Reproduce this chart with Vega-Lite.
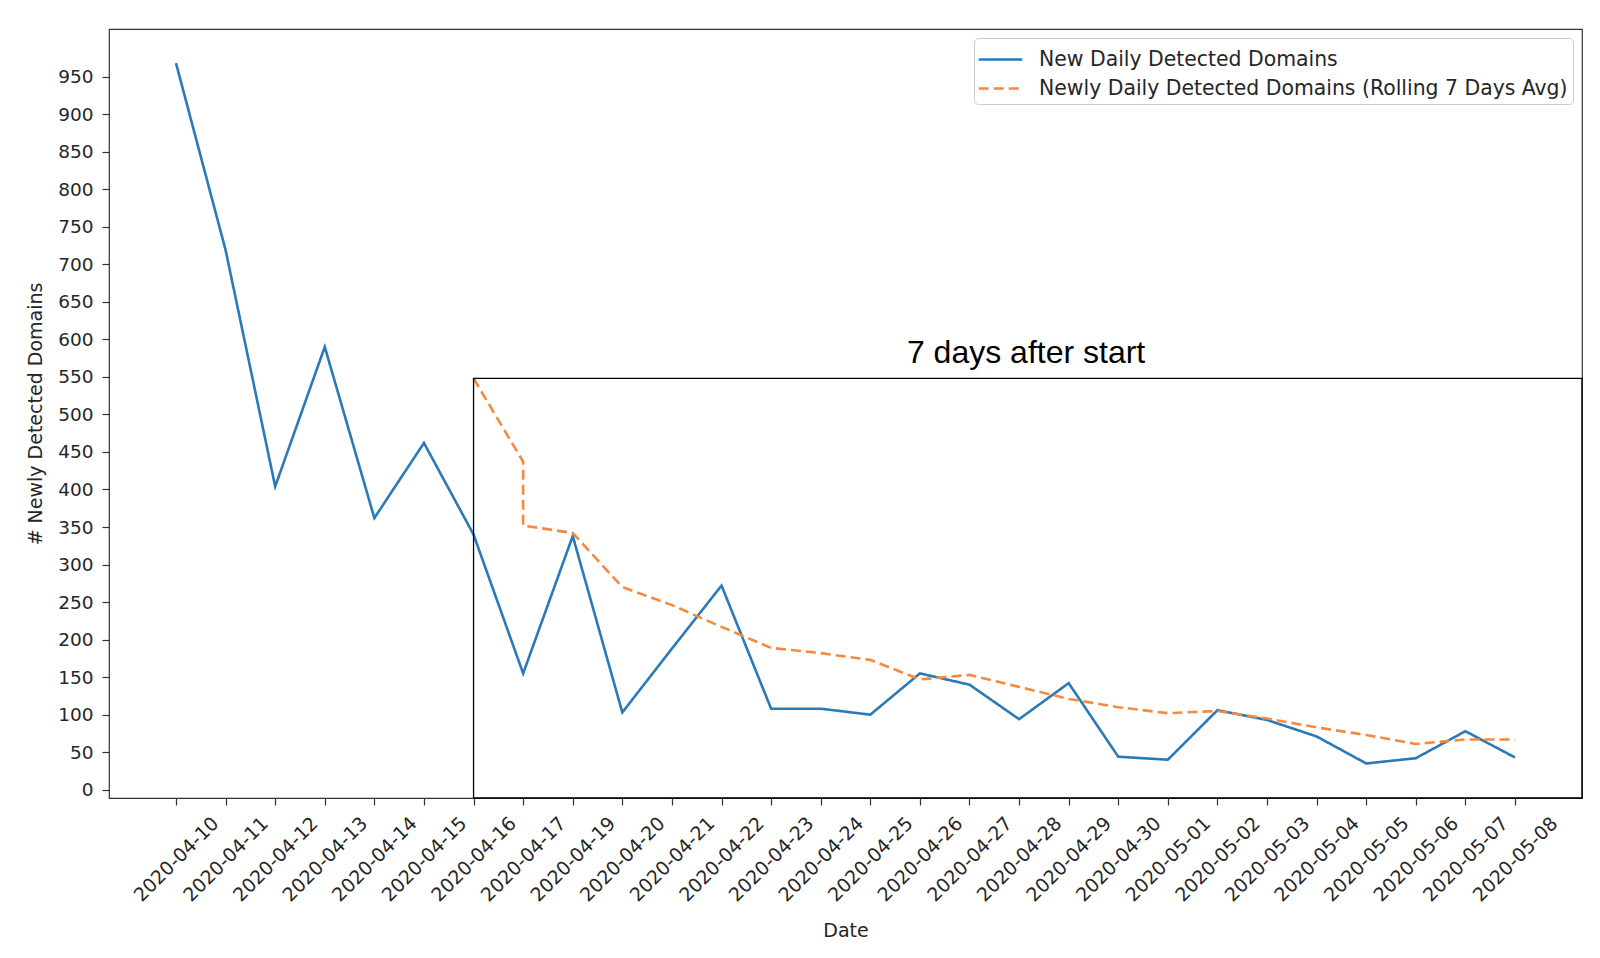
{
  "$schema": "https://vega.github.io/schema/vega-lite/v6.json",
  "description": "Newly detected domains per day with rolling 7 day average.",
  "width": 1473,
  "height": 769,
  "autosize": {"type": "none"},
  "padding": {"left": 109, "top": 29, "right": 18, "bottom": 160},
  "background": "white",
  "config": {
    "font": "DejaVu Sans",
    "view": {"stroke": "#333333", "strokeWidth": 1.2},
    "axis": {
      "domain": false,
      "grid": false,
      "ticks": true,
      "tickSize": 7,
      "tickColor": "#333333",
      "tickWidth": 1.2,
      "labelFont": "DejaVu Sans",
      "labelFontSize": 19,
      "labelColor": "#262626",
      "titleFont": "DejaVu Sans",
      "titleFontSize": 19,
      "titleFontWeight": "normal",
      "titleColor": "#262626"
    },
    "legend": {
      "labelFont": "DejaVu Sans",
      "labelFontSize": 20.4,
      "labelColor": "#262626",
      "labelLimit": 700
    }
  },
  "datasets": {
    "domains": [
      {"date": "2020-04-10", "series": "New Daily Detected Domains", "value": 968},
      {"date": "2020-04-11", "series": "New Daily Detected Domains", "value": 719},
      {"date": "2020-04-12", "series": "New Daily Detected Domains", "value": 404},
      {"date": "2020-04-13", "series": "New Daily Detected Domains", "value": 590},
      {"date": "2020-04-14", "series": "New Daily Detected Domains", "value": 362},
      {"date": "2020-04-15", "series": "New Daily Detected Domains", "value": 462},
      {"date": "2020-04-16", "series": "New Daily Detected Domains", "value": 340},
      {"date": "2020-04-17", "series": "New Daily Detected Domains", "value": 155},
      {"date": "2020-04-19", "series": "New Daily Detected Domains", "value": 338},
      {"date": "2020-04-20", "series": "New Daily Detected Domains", "value": 103},
      {"date": "2020-04-21", "series": "New Daily Detected Domains", "value": 188},
      {"date": "2020-04-22", "series": "New Daily Detected Domains", "value": 272},
      {"date": "2020-04-23", "series": "New Daily Detected Domains", "value": 108},
      {"date": "2020-04-24", "series": "New Daily Detected Domains", "value": 108},
      {"date": "2020-04-25", "series": "New Daily Detected Domains", "value": 100},
      {"date": "2020-04-26", "series": "New Daily Detected Domains", "value": 155},
      {"date": "2020-04-27", "series": "New Daily Detected Domains", "value": 140},
      {"date": "2020-04-28", "series": "New Daily Detected Domains", "value": 94},
      {"date": "2020-04-29", "series": "New Daily Detected Domains", "value": 142},
      {"date": "2020-04-30", "series": "New Daily Detected Domains", "value": 44},
      {"date": "2020-05-01", "series": "New Daily Detected Domains", "value": 40},
      {"date": "2020-05-02", "series": "New Daily Detected Domains", "value": 106},
      {"date": "2020-05-03", "series": "New Daily Detected Domains", "value": 93},
      {"date": "2020-05-04", "series": "New Daily Detected Domains", "value": 71},
      {"date": "2020-05-05", "series": "New Daily Detected Domains", "value": 35},
      {"date": "2020-05-06", "series": "New Daily Detected Domains", "value": 42},
      {"date": "2020-05-07", "series": "New Daily Detected Domains", "value": 78},
      {"date": "2020-05-08", "series": "New Daily Detected Domains", "value": 43},
      {"date": "2020-04-16", "series": "Newly Daily Detected Domains (Rolling 7 Days Avg)", "value": 548},
      {"date": "2020-04-17", "series": "Newly Daily Detected Domains (Rolling 7 Days Avg)", "value": 437},
      {"date": "2020-04-17", "series": "Newly Daily Detected Domains (Rolling 7 Days Avg)", "value": 352},
      {"date": "2020-04-19", "series": "Newly Daily Detected Domains (Rolling 7 Days Avg)", "value": 342},
      {"date": "2020-04-20", "series": "Newly Daily Detected Domains (Rolling 7 Days Avg)", "value": 270},
      {"date": "2020-04-21", "series": "Newly Daily Detected Domains (Rolling 7 Days Avg)", "value": 246},
      {"date": "2020-04-22", "series": "Newly Daily Detected Domains (Rolling 7 Days Avg)", "value": 217},
      {"date": "2020-04-23", "series": "Newly Daily Detected Domains (Rolling 7 Days Avg)", "value": 189},
      {"date": "2020-04-24", "series": "Newly Daily Detected Domains (Rolling 7 Days Avg)", "value": 182},
      {"date": "2020-04-25", "series": "Newly Daily Detected Domains (Rolling 7 Days Avg)", "value": 173},
      {"date": "2020-04-26", "series": "Newly Daily Detected Domains (Rolling 7 Days Avg)", "value": 147},
      {"date": "2020-04-27", "series": "Newly Daily Detected Domains (Rolling 7 Days Avg)", "value": 153},
      {"date": "2020-04-28", "series": "Newly Daily Detected Domains (Rolling 7 Days Avg)", "value": 137},
      {"date": "2020-04-29", "series": "Newly Daily Detected Domains (Rolling 7 Days Avg)", "value": 121},
      {"date": "2020-04-30", "series": "Newly Daily Detected Domains (Rolling 7 Days Avg)", "value": 110},
      {"date": "2020-05-01", "series": "Newly Daily Detected Domains (Rolling 7 Days Avg)", "value": 102},
      {"date": "2020-05-02", "series": "Newly Daily Detected Domains (Rolling 7 Days Avg)", "value": 105},
      {"date": "2020-05-03", "series": "Newly Daily Detected Domains (Rolling 7 Days Avg)", "value": 95},
      {"date": "2020-05-04", "series": "Newly Daily Detected Domains (Rolling 7 Days Avg)", "value": 83},
      {"date": "2020-05-05", "series": "Newly Daily Detected Domains (Rolling 7 Days Avg)", "value": 73},
      {"date": "2020-05-06", "series": "Newly Daily Detected Domains (Rolling 7 Days Avg)", "value": 61},
      {"date": "2020-05-07", "series": "Newly Daily Detected Domains (Rolling 7 Days Avg)", "value": 67},
      {"date": "2020-05-08", "series": "Newly Daily Detected Domains (Rolling 7 Days Avg)", "value": 67}
    ],
    "annotation": [
      {"note": "7 days after start", "from": "2020-04-16", "upper": 548}
    ]
  },
  "layer": [
    {
      "data": {"name": "domains"},
      "mark": {"type": "line", "strokeWidth": 2.6},
      "encoding": {
        "x": {
          "field": "date",
          "type": "ordinal",
          "scale": {"type": "point", "padding": 0, "range": [67, 1406]},
          "axis": {
            "title": "Date",
            "labelAngle": -45,
            "labelAlign": "center",
            "labelBaseline": "middle",
            "labelPadding": 54,
            "labelOverlap": false,
            "titlePadding": 16
          }
        },
        "y": {
          "field": "value",
          "type": "quantitative",
          "scale": {"domain": [-11, 1013.5], "nice": false, "zero": false},
          "axis": {
            "title": "# Newly Detected Domains",
            "values": [0, 50, 100, 150, 200, 250, 300, 350, 400, 450, 500, 550, 600, 650, 700, 750, 800, 850, 900, 950],
            "labelFontSize": 18.5,
            "labelPadding": 9,
            "titlePadding": 12
          }
        },
        "color": {
          "field": "series",
          "type": "nominal",
          "scale": {
            "domain": ["New Daily Detected Domains", "Newly Daily Detected Domains (Rolling 7 Days Avg)"],
            "range": ["#2a7ab8", "#f58a3e"]
          },
          "legend": {
            "title": null,
            "orient": "top-right",
            "offset": 9,
            "symbolType": "M-1.45,0H1.45",
            "symbolSize": 900,
            "symbolStrokeWidth": 2.6,
            "symbolOffset": 5,
            "labelOffset": 22,
            "rowPadding": 2,
            "padding": 5,
            "fillColor": "white",
            "strokeColor": "#cccccc",
            "cornerRadius": 4
          }
        },
        "strokeDash": {
          "field": "series",
          "type": "nominal",
          "scale": {
            "domain": ["New Daily Detected Domains", "Newly Daily Detected Domains (Rolling 7 Days Avg)"],
            "range": [[1, 0], [10, 5]]
          },
          "legend": {
            "title": null,
            "orient": "top-right",
            "offset": 9,
            "symbolType": "M-1.45,0H1.45",
            "symbolSize": 900,
            "symbolStrokeWidth": 2.6,
            "symbolOffset": 5,
            "labelOffset": 22,
            "rowPadding": 2,
            "padding": 5,
            "fillColor": "white",
            "strokeColor": "#cccccc",
            "cornerRadius": 4
          }
        },
        "order": [
          {"field": "date", "type": "ordinal"},
          {"field": "value", "type": "quantitative", "sort": "descending"}
        ]
      }
    },
    {
      "data": {"name": "annotation"},
      "mark": {"type": "rect", "filled": false, "stroke": "black", "strokeWidth": 1.3},
      "encoding": {
        "x": {"field": "from", "type": "ordinal"},
        "x2": {"value": "width"},
        "y": {"field": "upper", "type": "quantitative"},
        "y2": {"value": "height"}
      }
    },
    {
      "data": {"name": "annotation"},
      "mark": {
        "type": "text",
        "font": "Liberation Sans",
        "fontSize": 32,
        "color": "black",
        "align": "center",
        "baseline": "alphabetic",
        "dx": 7
      },
      "encoding": {
        "x": {"datum": "2020-04-28", "type": "ordinal"},
        "y": {"datum": 569, "type": "quantitative"},
        "text": {"field": "note"}
      }
    }
  ]
}
